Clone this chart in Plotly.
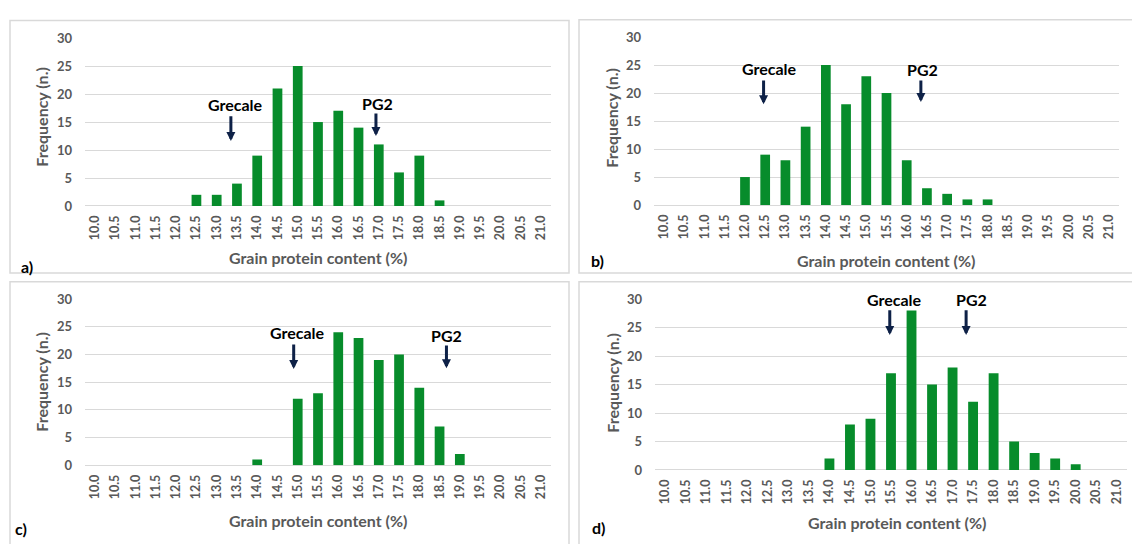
import plotly.graph_objects as go

# ---------------- data ----------------
protein = [10.0, 10.5, 11.0, 11.5, 12.0, 12.5, 13.0, 13.5, 14.0, 14.5, 15.0, 15.5,
           16.0, 16.5, 17.0, 17.5, 18.0, 18.5, 19.0, 19.5, 20.0, 20.5, 21.0]
tick_labels = [f"{v:.1f}" for v in protein]

freq_a = [0, 0, 0, 0, 0, 2, 2, 4, 9, 21, 25, 15, 17, 14, 11, 6, 9, 1, 0, 0, 0, 0, 0]
freq_b = [0, 0, 0, 0, 5, 9, 8, 14, 25, 18, 23, 20, 8, 3, 2, 1, 1, 0, 0, 0, 0, 0, 0]
freq_c = [0, 0, 0, 0, 0, 0, 0, 0, 1, 0, 12, 13, 24, 23, 19, 20, 14, 7, 2, 0, 0, 0, 0]
freq_d = [0, 0, 0, 0, 0, 0, 0, 0, 2, 8, 9, 17, 28, 15, 18, 12, 17, 5, 3, 2, 1, 0, 0]

panel_labels = ["a)", "b)", "c)", "d)"]
marker_names = ["Grecale", "PG2"]
# parent positions per panel: [Grecale, PG2] on the protein axis
marker_x = {"a": [13.35, 16.93], "b": [12.46, 16.35], "c": [14.90, 18.67], "d": [15.47, 17.33]}
label_x = {"a": [13.47, 16.98], "b": [12.60, 16.38], "c": [15.00, 18.68], "d": [15.58, 17.45]}
label_y = {"a": [18.2, 18.4], "b": [24.4, 24.3], "c": [23.9, 23.5], "d": [30.0, 30.0]}
arrow_tail = {"a": [16.3, 16.8], "b": [22.5, 22.5], "c": [22.1, 21.9], "d": [28.3, 28.3]}
arrow_head = {"a": [11.6, 12.5], "b": [18.0, 18.4], "c": [17.4, 17.5], "d": [23.7, 23.7]}

# ---------------- layout geometry (pixels) ----------------
W, H = 1132, 544
FONT = "Lato"
GREY = "#595959"
GREEN = "#078C2B"
NAVY = "#0E2147"

def px(x):
    return x / W

def py(y):
    return (H - y) / H

# plot areas: x0, x1, ytop, ybottom
areas = {
    "a": (85, 551, 31, 204),
    "b": (654, 1119, 30, 203),
    "c": (85, 551, 300, 471),
    "d": (655, 1127, 300, 476),
}
panels = {
    "a": (10, 569, 13, 273),
    "b": (579, 1140, 12, 273),
    "c": (10, 569, 282, 560),
    "d": (579, 1140, 282, 560),
}
xtitle_pos = {"a": (318, 257), "b": (886, 260), "c": (318, 528), "d": (897, 530)}
ytitle_pos = {"a": (42, 112), "b": (612, 113), "c": (42, 385), "d": (613, 386)}
plabel_pos = {"a": (27, 266), "b": (597, 260), "c": (21, 536), "d": (598, 535)}

series = {"a": freq_a, "b": freq_b, "c": freq_c, "d": freq_d}

fig = go.Figure()
annotations = []
shapes = []

for i, key in enumerate(["a", "b", "c", "d"]):
    n = "" if i == 0 else str(i + 1)
    xa, ya = "x" + n, "y" + n
    x0, x1, yt, yb = areas[key]
    fig.add_trace(go.Bar(
        x=protein, y=series[key], xaxis=xa, yaxis=ya,
        marker=dict(color=GREEN, line=dict(width=0)),
        width=0.24, showlegend=False, hoverinfo="x+y",
    ))
    fig.layout["xaxis" + n] = dict(
        domain=[px(x0), px(x1)], anchor=ya, range=[9.75, 21.25],
        tickmode="array", tickvals=protein, ticktext=tick_labels,
        tickangle=-90, ticks="", showgrid=False, zeroline=False,
        showline=False, ticklabelstandoff=6,
        tickfont=dict(family=FONT, size=12.5, color=GREY, weight="bold"),
    )
    fig.layout["yaxis" + n] = dict(
        domain=[py(yb), py(yt)], anchor=xa, range=[0, 30],
        tickmode="array", tickvals=[0, 5, 10, 15, 20, 25, 30],
        showgrid=True, gridcolor="#D9D9D9", gridwidth=1,
        zeroline=True, zerolinecolor="#D9D9D9", zerolinewidth=1,
        showline=False, ticks="", ticklabelstandoff=12,
        tickfont=dict(family=FONT, size=13, color=GREY, weight="bold"),
    )
    # panel border
    bx0, bx1, by0, by1 = panels[key]
    shapes.append(dict(type="rect", xref="paper", yref="paper",
                       x0=px(bx0), x1=px(bx1), y0=py(by1), y1=py(by0),
                       line=dict(color="#D9D9D9", width=1.5), layer="below"))
    # axis titles
    tx, ty = xtitle_pos[key]
    annotations.append(dict(text="Grain protein content (%)", xref="paper", yref="paper",
                            x=px(tx), y=py(ty), showarrow=False,
                            xanchor="center", yanchor="middle",
                            font=dict(family=FONT, size=16, color=GREY, weight="bold")))
    vx, vy = ytitle_pos[key]
    annotations.append(dict(text="Frequency (n.)", xref="paper", yref="paper",
                            x=px(vx), y=py(vy), showarrow=False,
                            textangle=-90, xanchor="center", yanchor="middle",
                            font=dict(family=FONT, size=16, color=GREY, weight="bold")))
    lx, ly = plabel_pos[key]
    annotations.append(dict(text=panel_labels[i], xref="paper", yref="paper",
                            x=px(lx), y=py(ly), showarrow=False,
                            xanchor="center", yanchor="middle",
                            font=dict(family=FONT, size=16, color="black", weight="bold")))
    # marker labels and arrows
    for j, name in enumerate(marker_names):
        annotations.append(dict(text=name, xref=xa, yref=ya,
                                x=label_x[key][j], y=label_y[key][j], showarrow=False,
                                xanchor="center", yanchor="middle",
                                font=dict(family=FONT, size=16, color="black", weight="bold")))
        annotations.append(dict(text="", xref=xa, yref=ya,
                                x=marker_x[key][j], y=arrow_head[key][j],
                                ax=marker_x[key][j], ay=arrow_tail[key][j],
                                axref=xa, ayref=ya, showarrow=True,
                                arrowhead=2, arrowsize=0.6, arrowwidth=3,
                                arrowcolor=NAVY, standoff=0, startstandoff=0))

fig.update_layout(
    width=W, height=H, margin=dict(l=0, r=0, t=0, b=0),
    paper_bgcolor="white", plot_bgcolor="white",
    annotations=annotations, shapes=shapes, bargap=0.5,
    font=dict(family=FONT),
)

fig.write_html("out.html", config={"displayModeBar": False},
               post_script="document.body.style.margin='0';document.body.style.overflow='hidden';")
